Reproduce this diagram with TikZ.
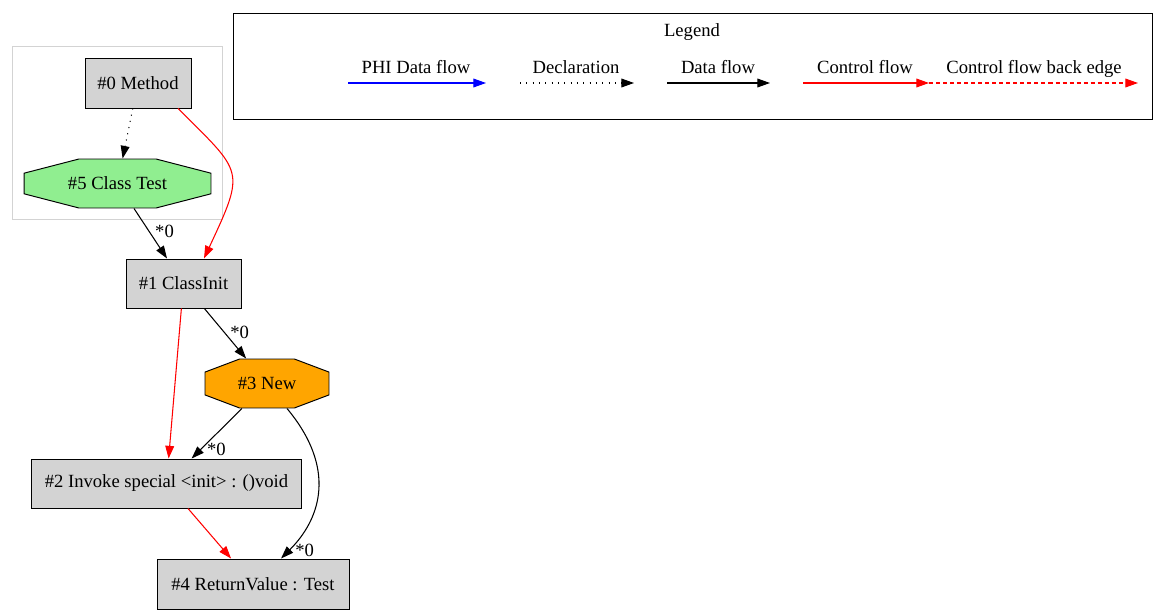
\documentclass[tikz,border=0pt]{standalone}
\usepackage{fontspec}
\setmainfont{Liberation Serif}
\usetikzlibrary{arrows.meta,positioning,calc,shapes.misc,fit}
\definecolor{boxgray}{HTML}{D3D3D3}
\definecolor{octgreen}{HTML}{90EE90}
\definecolor{octorange}{HTML}{FFA500}

\begin{document}
\begin{tikzpicture}[x=0.02cm,y=-0.02cm,
  every node/.style={font=\fontsize{10.6}{12.7}\selectfont},
  box/.style={draw,fill=boxgray,line width=0.55pt,inner sep=0pt,minimum height=0.98cm},
  oct/.style={chamfered rectangle,draw,line width=0.55pt,inner sep=0pt,minimum height=0.98cm,chamfered rectangle angle=#1,chamfered rectangle ysep=0.28cm},
  flow/.style={line width=0.6pt,-{Triangle[length=7.2pt,width=5pt]}},
  data/.style={flow,black},
  ctrl/.style={flow,red},
  decl/.style={flow,dash pattern=on 0.6pt off 3pt},
  back/.style={ctrl,dash pattern=on 2.3pt off 1.7pt},
  phi/.style={flow,blue},
  lbl/.style={right},
  legtext/.style={anchor=base,inner sep=0pt}]
\useasboundingbox (0,0) rectangle (1160,612);
% graph nodes
\node[box,minimum width=2.12cm,minimum height=1cm] (n0) at (138,83) {\#0 Method};
\node[oct=75.5,fill=octgreen,minimum width=3.74cm] (n5) at (117.5,183.5) {\#5 Class Test};
\node[box,minimum width=2.3cm] (n1) at (183.5,283.5) {\#1 ClassInit};
\node[oct=69.3,fill=octorange,minimum width=2.48cm] (n3) at (267,383.5) {\#3 New};
\node[box,minimum width=5.42cm] (n2) at (166.5,483.5) {\#2 Invoke special <init> : ()void};
\node[box,minimum width=3.84cm,minimum height=1cm] (n4) at (253,584) {\#4 ReturnValue : Test};
\node[draw=boxgray,line width=0.55pt,inner sep=0.22cm,fit=(n0) (n5)] (cluster) {};
% edges
\draw[decl] (n0) -- (n5);
\draw[ctrl] ($(n0.south)+(40,0)$) .. controls +(65,65) and +(42,-90) .. ($(n1.north)+(20.5,0)$);
\draw[data] (n5) -- node[lbl,pos=0.45] (l51) {*0} (n1);
\draw[data] (n1) -- node[lbl,pos=0.47] (l13) {*0} (n3);
\draw[ctrl] (n1) -- (n2);
\draw[data] (n3) -- node[lbl,pos=0.82] (l32) {*0} (n2);
\draw[data] ($(n3.south)+(20,0)$) .. controls +(50,60) and +(40,-40) .. node[lbl,pos=0.93] (l34) {*0} ($(n4.north)+(28,0)$);
\draw[ctrl] (n2) -- (n4);
% legend
\node[draw,line width=0.55pt,minimum width=18.4cm,minimum height=2.12cm] (legend) at (693,66) {};
\node[legtext] (legtitle) at (692,36) {Legend};
\node[legtext] (tphi) at (416,73) {PHI Data flow};
\node[legtext] (tdecl) at (576,73) {Declaration};
\node[legtext] (tdata) at (718,73) {Data flow};
\node[legtext] (tctrl) at (865,73) {Control flow};
\node[legtext] (tback) at (1034,73) {Control flow back edge};
\coordinate (phiA) at (348,83);
\coordinate (phiB) at (486,83);
\coordinate (declA) at (520,83);
\coordinate (declB) at (634,83);
\coordinate (dataA) at (667,83);
\coordinate (dataB) at (770,83);
\coordinate (ctrlA) at (803,83);
\coordinate (ctrlB) at (929,83);
\coordinate (backB) at (1138,83);
\draw[phi] (phiA) -- (phiB);
\draw[decl] (declA) -- (declB);
\draw[data] (dataA) -- (dataB);
\draw[ctrl] (ctrlA) -- (ctrlB);
\draw[back] (ctrlB) -- (backB);
\end{tikzpicture}
\end{document}
